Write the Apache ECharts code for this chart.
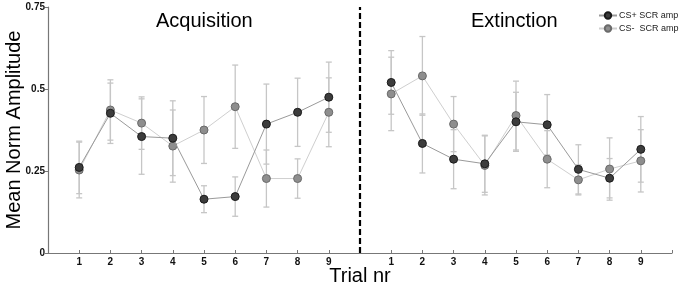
<!DOCTYPE html>
<html><head><meta charset="utf-8">
<script src="https://cdn.jsdelivr.net/npm/echarts@6/dist/echarts.min.js"></script>
<style>html,body{margin:0;padding:0;background:#fff}#c{width:680px;height:287px}</style>
</head><body><div id="c"></div>
<script>
const trials = [1,2,3,4,5,6,7,8,9];
const xTickLabels = ['1','2','3','4','5','6','7','8','9'];
const yTicks = [0, 0.25, 0.5, 0.75];
// Acquisition
const acqPlus     = [0.261, 0.426, 0.355, 0.350, 0.164, 0.172, 0.393, 0.429, 0.475];
const acqPlusErr  = [0.080, 0.092, 0.115, 0.114, 0.041, 0.060, 0.122, 0.104, 0.107];
const acqMinus    = [0.253, 0.436, 0.396, 0.326, 0.375, 0.446, 0.227, 0.227, 0.429];
const acqMinusErr = [0.085, 0.092, 0.080, 0.110, 0.102, 0.127, 0.087, 0.060, 0.105];
// Extinction
const extPlus     = [0.520, 0.334, 0.286, 0.272, 0.400, 0.391, 0.255, 0.228, 0.316];
const extPlusErr  = [0.097, 0.090, 0.090, 0.087, 0.090, 0.092, 0.075, 0.060, 0.100];
const extMinus    = [0.485, 0.540, 0.393, 0.267, 0.419, 0.286, 0.223, 0.256, 0.281];
const extMinusErr = [0.112, 0.120, 0.084, 0.090, 0.105, 0.087, 0.046, 0.095, 0.095];

const EXT_OFFSET = 10;
const pts = (vals, off) => vals.map((v, i) => [trials[i] + off, v]);
const errPts = (vals, errs, off) => vals.map((v, i) => [trials[i] + off, v, errs[i]]);

const plusStyle = {color: '#3c3c3c', borderColor: '#1a1a1a', borderWidth: 1};
const minusStyle = {color: '#8e8e8e', borderColor: '#6a6a6a', borderWidth: 1};

function errRender(params, api) {
  const x = api.value(0), y = api.value(1), e = api.value(2);
  const top = api.coord([x, y + e]);
  const bot = api.coord([x, y - e]);
  const hw = 3;
  const st = {stroke: '#c6c6c6', lineWidth: 1.3};
  return {type: 'group', children: [
    {type: 'line', shape: {x1: top[0], y1: top[1], x2: bot[0], y2: bot[1]}, style: st},
    {type: 'line', shape: {x1: top[0]-hw, y1: top[1], x2: top[0]+hw, y2: top[1]}, style: st},
    {type: 'line', shape: {x1: bot[0]-hw, y1: bot[1], x2: bot[0]+hw, y2: bot[1]}, style: st}
  ]};
}
function errSeries(vals, errs, off) {
  return {type: 'custom', renderItem: errRender, data: errPts(vals, errs, off), z: 1, silent: true,
          encode: {x: 0, y: [1]}};
}
function lineSeries(name, vals, off, isPlus) {
  return {name, type: 'line', data: pts(vals, off), symbol: 'circle', symbolSize: 8,
    itemStyle: isPlus ? plusStyle : minusStyle,
    lineStyle: {color: isPlus ? '#9a9a9a' : '#cfcfcf', width: 1},
    z: isPlus ? 4 : 3, animation: false};
}

const chart = echarts.init(document.getElementById('c'), null, {renderer: 'canvas'});
chart.setOption({
  animation: false,
  backgroundColor: '#fff',
  textStyle: {fontFamily: 'Liberation Sans, Arial, sans-serif'},
  grid: {left: 48, right: 8, top: 7, bottom: 34, containLabel: false, outerBoundsMode: 'none'},
  title: [
    {text: 'Acquisition', left: 151, top: 6, textStyle: {fontSize: 20, fontWeight: 'normal', color: '#000', fontFamily: 'Liberation Sans'}},
    {text: 'Extinction', left: 466, top: 6, textStyle: {fontSize: 20, fontWeight: 'normal', color: '#000', fontFamily: 'Liberation Sans'}}
  ],
  legend: {
    orient: 'vertical', left: 598, top: 11, padding: 0, itemWidth: 18, itemHeight: 8, itemGap: 4,
    data: ['CS+ SCR amp', 'CS-  SCR amp'],
    textStyle: {fontSize: 9, color: '#222', fontFamily: 'Liberation Sans', padding: [0,0,0,-3], overflow: 'none', width: 80}
  },
  xAxis: {
    type: 'value', min: 0, max: 20, interval: 1,
    name: 'Trial nr', nameLocation: 'middle', nameGap: 13, nameMoveOverlap: false,
    nameTextStyle: {fontSize: 20, color: '#000', fontFamily: 'Liberation Sans'},
    axisLine: {lineStyle: {color: '#777', width: 1.2}},
    axisTick: {inside: true, length: 3, lineStyle: {color: '#777'}, interval: 0},
    splitLine: {show: false},
    axisLabel: {fontSize: 10, fontWeight: 'bold', color: '#111', margin: 4,
      formatter: v => {
        if (v >= 1 && v <= 9) return xTickLabels[v - 1];
        if (v >= 11 && v <= 19) return xTickLabels[v - 11];
        return '';
      }}
  },
  yAxis: {
    type: 'value', min: 0, max: 0.75, interval: 0.25,
    name: 'Mean Norm Amplitude', nameLocation: 'middle', nameGap: 24, nameMoveOverlap: false,
    nameTextStyle: {fontSize: 20, color: '#000', fontFamily: 'Liberation Sans'},
    axisLine: {show: true, lineStyle: {color: '#777', width: 1.2}},
    axisTick: {show: true, length: 3, lineStyle: {color: '#777'}},
    splitLine: {show: false},
    axisLabel: {fontSize: 10, fontWeight: 'bold', color: '#111', margin: 3,
      formatter: v => { const i = yTicks.indexOf(+v.toFixed(2)); return i >= 0 ? String(yTicks[i]) : ''; }}
  },
  series: [
    errSeries(acqPlus, acqPlusErr, 0),
    errSeries(acqMinus, acqMinusErr, 0),
    errSeries(extPlus, extPlusErr, EXT_OFFSET),
    errSeries(extMinus, extMinusErr, EXT_OFFSET),
    lineSeries('CS-  SCR amp', acqMinus, 0, false),
    lineSeries('CS+ SCR amp', acqPlus, 0, true),
    lineSeries('CS-  SCR amp', extMinus, EXT_OFFSET, false),
    Object.assign(lineSeries('CS+ SCR amp', extPlus, EXT_OFFSET, true), {
      markLine: {silent: true, symbol: 'none', label: {show: false},
        lineStyle: {color: '#000', type: [6, 3], width: 2.2},
        data: [{xAxis: EXT_OFFSET}]}
    })
  ]
});
</script></body></html>
